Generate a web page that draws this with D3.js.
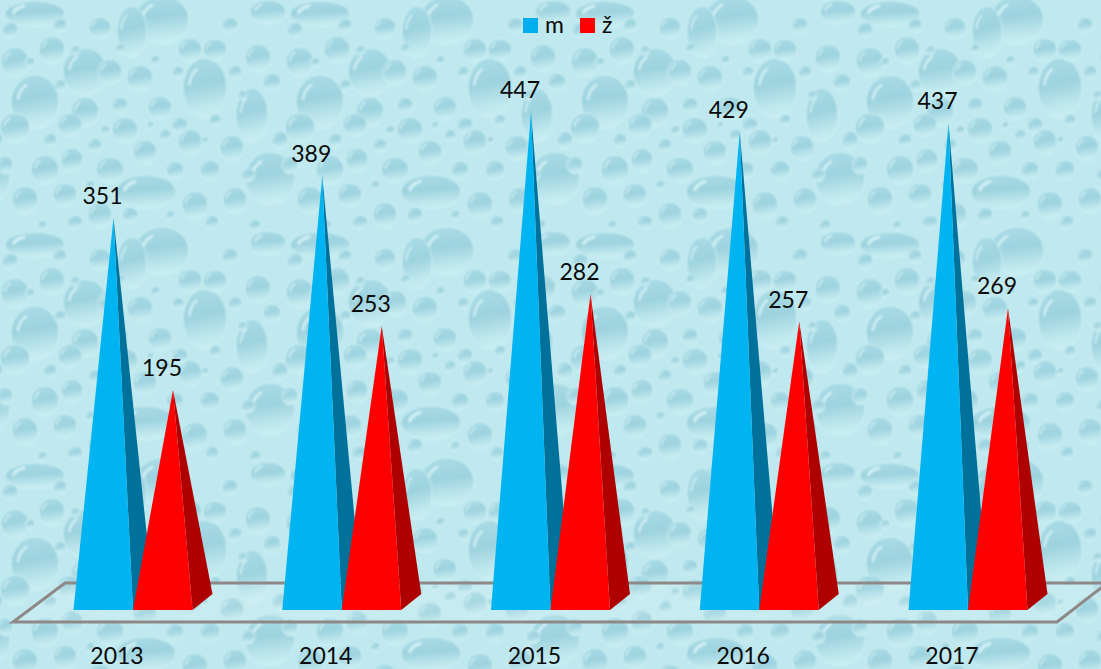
<!DOCTYPE html>
<html><head><meta charset="utf-8">
<script src="https://d3js.org/d3.v7.min.js"></script>
<style>html,body{margin:0;padding:0;background:#b8e5ec;overflow:hidden}svg{display:block}text{font-family:Lato,"Noto Sans",sans-serif;fill:#0a0a0a}</style>
</head><body><svg id="c" width="1101" height="669"></svg>
<script>
const years = ["2013","2014","2015","2016","2017"];
const male = [351,389,447,429,437];
const female = [195,253,282,257,269];
const seriesNames = ["m","ž"];
const frontColors = ["#00b4f1","#ff0000"];
const sideColors = ["#00719b","#ae0000"];
// background water-drop tile: x, y, rx, ry
const drops = [
[35,14,30,13],[162,20,27,24],[132,32,15,26],[268,12,18,12],[85,72,22,24],[35,102,24,27],[205,88,22,30],[252,115,16,27],
[146,192,30,17],[270,178,25,26],[85,112,14,15],[100,28,11,11],[52,50,13,14],[15,62,14,15],[15,128,15,15],[70,125,12,12],
[125,130,13,13],[145,152,12,12],[190,50,12,12],[215,50,12,11],[258,58,13,14],[140,78,13,13],[110,72,12,13],[190,142,12,13],
[232,148,12,13],[110,170,14,13],[72,160,11,12],[45,170,14,15],[195,205,13,14],[235,200,12,13],[25,200,13,14],[65,195,12,12],
[100,215,12,13],[175,170,9,9],[210,170,10,10],[160,108,12,12],[120,105,8,8],[60,25,7,7],[180,125,8,8],[230,25,8,8],
[10,30,8,8],[235,72,7,7],[272,82,9,9],[50,140,7,7],[95,145,7,7],[130,215,8,8],[165,135,6,6],[215,120,6,6],[248,175,7,7],
[75,222,8,7],[280,140,8,9],[5,165,8,9],[60,85,6,6],[178,72,6,6],[212,222,7,7],[120,48,5,5],[75,50,5,5],[242,95,5,5],
[30,62,5,5],[155,60,5,5],[105,130,5,5],[150,125,4,4],[205,140,4,4],[90,185,5,5],[170,215,5,5],[255,225,6,6],[42,225,5,5]
];
const W=1101,H=669,TW=285,TH=231;
const svg=d3.select("#c");
const defs=svg.append("defs");
const g=defs.append("linearGradient").attr("id","dg").attr("x1",0.25).attr("y1",0).attr("x2",0.4).attr("y2",1);
[[0,"#a9dce6"],[0.45,"#9dd3df"],[0.8,"#bde6ec"],[1,"#c8eff3"]].forEach(s=>g.append("stop").attr("offset",s[0]).attr("stop-color",s[1]));
const f=defs.append("filter").attr("id","soft").attr("x","-10%").attr("y","-10%").attr("width","120%").attr("height","120%");
f.append("feGaussianBlur").attr("stdDeviation",1);
const pat=defs.append("pattern").attr("id","tile").attr("patternUnits","userSpaceOnUse").attr("width",TW).attr("height",TH);
pat.append("rect").attr("width",TW).attr("height",TH).attr("fill","#c0e9ef");
const pg=pat.append("g").attr("filter","url(#soft)");
[-TW,0,TW].forEach(dx=>[-TH,0,TH].forEach(dy=>{
  drops.forEach(d=>{
    const x=d[0]+dx,y=d[1]+dy,rx=d[2],ry=d[3];
    if(x+rx+3<0||x-rx-3>TW||y+ry+3<0||y-ry-3>TH) return;
    pg.append("ellipse").attr("cx",x).attr("cy",y).attr("rx",rx).attr("ry",ry)
      .attr("fill","url(#dg)").attr("stroke","#cdeff3").attr("stroke-width",1);
    const hx=rx*0.72,hy=ry*0.72;
    const a0=Math.PI*1.05,a1=Math.PI*1.33;
    pg.append("path")
      .attr("d",`M${x+hx*Math.cos(a0)},${y+hy*Math.sin(a0)}A${hx},${hy} 0 0 1 ${x+hx*Math.cos(a1)},${y+hy*Math.sin(a1)}`)
      .attr("fill","none").attr("stroke","#dcf6f8").attr("stroke-opacity",0.85).attr("stroke-width",Math.max(1,rx*0.1)).attr("stroke-linecap","round");
  });
}));
svg.append("rect").attr("width",W).attr("height",H).attr("fill","url(#tile)");

// scales
const x=d3.scalePoint().domain(years).range([73.5,908.5]);
const y=d3.scaleLinear().domain([0,500]).range([605,53.5]);
const baseY=610, depthY=594, w=59.5, depthX=20, apexDx=40;

// floor
svg.append("path").attr("d",d3.line()([[1104,585.5],[1057,622],[13,622],[65,583],[1104,583]]))
  .attr("fill","#ffffff").attr("fill-opacity",0.1).attr("stroke","#8e8987").attr("stroke-width",3).attr("stroke-linejoin","miter");

const line=d3.line();
[male,female].forEach((vals,s)=>{
  const gs=svg.append("g").selectAll("g").data(years).join("g");
  gs.each(function(yr,i){
    const x0=x(yr)+s*w, apex=[x0+apexDx,y(vals[i])], el=d3.select(this);
    el.append("path").attr("fill",sideColors[s]).attr("d",line([[x0+w,baseY],[x0+w+depthX,depthY],apex])+"Z");
    el.append("path").attr("fill",frontColors[s]).attr("d",line([[x0,baseY],[x0+w,baseY],apex])+"Z");
  });
});
// value labels on top
[male,female].forEach((vals,s)=>{
  svg.append("g").selectAll("text").data(years).join("text")
    .attr("x",yr=>x(yr)+s*w+apexDx-11)
    .attr("y",(yr,i)=>y(vals[i])-14)
    .attr("text-anchor","middle").attr("font-size",23).text((yr,i)=>vals[i]);
});
// category labels
svg.append("g").selectAll("text").data(years).join("text")
  .attr("x",yr=>x(yr)+43.5).attr("y",664).attr("text-anchor","middle").attr("font-size",23).text(d=>d);
// legend
const lx=[523,580];
seriesNames.forEach((n,i)=>{
  svg.append("rect").attr("x",lx[i]).attr("y",18).attr("width",15).attr("height",15).attr("fill",i?"#ff0000":"#00aeef");
  svg.append("text").attr("x",lx[i]+22).attr("y",33).attr("font-size",23).text(n);
});
</script></body></html>
